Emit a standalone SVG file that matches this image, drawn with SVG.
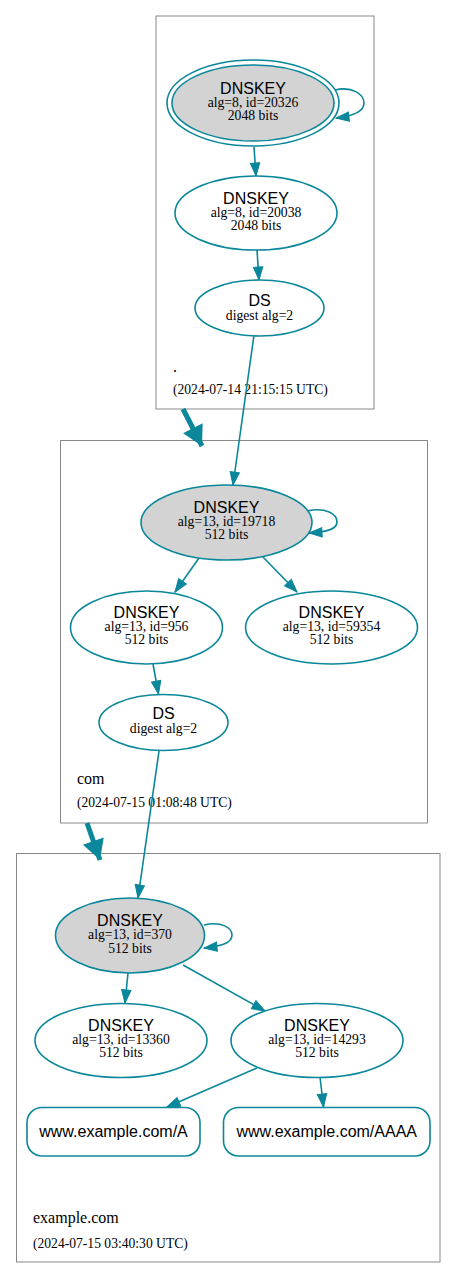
<svg xmlns="http://www.w3.org/2000/svg" width="456" height="1278" viewBox="0 0 456 1278">
<defs>
<style>
.cl{fill:#fff;stroke:#888;stroke-width:1}
.nd{fill:#fff;stroke:#0a879a;stroke-width:1.6}
.ksk{fill:#d3d3d3;stroke:#0a879a;stroke-width:1.6}
.e{fill:none;stroke:#0a879a;stroke-width:1.6;marker-end:url(#ah)}
.th{fill:none;stroke:#0a879a;stroke-width:5;marker-end:url(#ahT)}
.t1{font-family:"Liberation Sans",Arial,sans-serif;font-size:16px;fill:#000;text-anchor:middle}
.t2{font-family:"Liberation Serif","Times New Roman",serif;font-size:13.7px;fill:#000;text-anchor:middle}
.cn{font-family:"Liberation Serif","Times New Roman",serif;font-size:16px;fill:#000}
.ts{font-family:"Liberation Serif","Times New Roman",serif;font-size:13.6px;fill:#000}
</style>
<marker id="ah" markerUnits="userSpaceOnUse" markerWidth="14" markerHeight="11" refX="13" refY="4.7" orient="auto" overflow="visible">
<path d="M0,0 L13,4.7 L0,9.4 z" fill="#0a879a" stroke="#0a879a" stroke-width="1"/>
</marker>
<marker id="ahT" markerUnits="userSpaceOnUse" markerWidth="24" markerHeight="24" refX="20" refY="11" orient="auto" overflow="visible">
<path d="M0,0 L20,11 L0,22 z" fill="#0a879a"/>
</marker>
</defs>
<rect width="456" height="1278" fill="#fff"/>

<g id="cluster-root">
<rect class="cl" x="156" y="16" width="218" height="393"/>
<text class="cn" x="173" y="372">.</text>
<text class="ts" x="173" y="394">(2024-07-14 21:15:15 UTC)</text>
</g>
<g id="cluster-com">
<rect class="cl" x="60.5" y="440.5" width="367" height="382.5"/>
<text class="cn" x="77" y="784">com</text>
<text class="ts" x="77" y="807">(2024-07-15 01:08:48 UTC)</text>
</g>
<g id="cluster-example">
<rect class="cl" x="16.5" y="853.5" width="423.5" height="408.5"/>
<text class="cn" x="33" y="1223">example.com</text>
<text class="ts" x="33" y="1248">(2024-07-15 03:40:30 UTC)</text>
</g>

<g id="connectors">
<path class="th" d="M183,409 L202,446"/>
<path class="th" d="M87,823 L100,860"/>
<path class="e" d="M335,90 C352,86 364,94 364,103 C364,111 354,116 336,118"/>
<path class="e" d="M254,147 L256,176"/>
<path class="e" d="M257,250 L259,280"/>
<path class="e" d="M254,335 L233,485"/>
<path class="e" d="M307,511 C326,507 337,514 337,522 C337,529 328,532 309,533"/>
<path class="e" d="M199,558 L175,592"/>
<path class="e" d="M262,556 L297,592"/>
<path class="e" d="M153,664 L158.5,694"/>
<path class="e" d="M159,751 L138,898"/>
<path class="e" d="M204,925 C222,921 232,928 232,935 C232,943 222,946 204,948"/>
<path class="e" d="M128,973 L125,1003"/>
<path class="e" d="M183,965 L265,1011"/>
<path class="e" d="M257,1068 L167,1107"/>
<path class="e" d="M320,1077 L323.5,1107"/>
</g>

<g id="dnskey-20326">
<ellipse class="nd" cx="253" cy="103" rx="86" ry="43"/>
<ellipse class="ksk" cx="253" cy="103" rx="81" ry="38"/>
<text class="t1" x="253" y="93.5">DNSKEY</text>
<text class="t2" x="253" y="107">alg=8, id=20326</text>
<text class="t2" x="253" y="120">2048 bits</text>
</g>
<g id="dnskey-20038">
<ellipse class="nd" cx="256" cy="213" rx="81" ry="37"/>
<text class="t1" x="256" y="204">DNSKEY</text>
<text class="t2" x="256" y="217">alg=8, id=20038</text>
<text class="t2" x="256" y="230">2048 bits</text>
</g>
<g id="ds-com">
<ellipse class="nd" cx="259.5" cy="308" rx="64.5" ry="28"/>
<text class="t1" x="259.5" y="306">DS</text>
<text class="t2" x="259.5" y="320">digest alg=2</text>
</g>

<g id="dnskey-19718">
<ellipse class="ksk" cx="226.5" cy="522.5" rx="85.5" ry="37.5"/>
<text class="t1" x="226.5" y="513">DNSKEY</text>
<text class="t2" x="226.5" y="526">alg=13, id=19718</text>
<text class="t2" x="226.5" y="539">512 bits</text>
</g>
<g id="dnskey-956">
<ellipse class="nd" cx="146.5" cy="627.5" rx="76" ry="36.5"/>
<text class="t1" x="146.5" y="618">DNSKEY</text>
<text class="t2" x="146.5" y="631">alg=13, id=956</text>
<text class="t2" x="146.5" y="644">512 bits</text>
</g>
<g id="dnskey-59354">
<ellipse class="nd" cx="331.5" cy="627.5" rx="86" ry="36.5"/>
<text class="t1" x="331.5" y="618">DNSKEY</text>
<text class="t2" x="331.5" y="631">alg=13, id=59354</text>
<text class="t2" x="331.5" y="644">512 bits</text>
</g>
<g id="ds-example">
<ellipse class="nd" cx="163.5" cy="722.5" rx="64.5" ry="28"/>
<text class="t1" x="163.5" y="719">DS</text>
<text class="t2" x="163.5" y="733">digest alg=2</text>
</g>

<g id="dnskey-370">
<ellipse class="ksk" cx="130" cy="935.5" rx="74.5" ry="37.5"/>
<text class="t1" x="130" y="926">DNSKEY</text>
<text class="t2" x="130" y="939">alg=13, id=370</text>
<text class="t2" x="130" y="953">512 bits</text>
</g>
<g id="dnskey-13360">
<ellipse class="nd" cx="121" cy="1040.5" rx="86" ry="37"/>
<text class="t1" x="121" y="1031">DNSKEY</text>
<text class="t2" x="121" y="1044">alg=13, id=13360</text>
<text class="t2" x="121" y="1057">512 bits</text>
</g>
<g id="dnskey-14293">
<ellipse class="nd" cx="317" cy="1040.5" rx="86" ry="37"/>
<text class="t1" x="317" y="1031">DNSKEY</text>
<text class="t2" x="317" y="1044">alg=13, id=14293</text>
<text class="t2" x="317" y="1057">512 bits</text>
</g>
<g id="rrset-a">
<rect class="nd" x="27" y="1107.5" width="173" height="48.5" rx="15"/>
<text class="t1" x="113.5" y="1137">www.example.com/A</text>
</g>
<g id="rrset-aaaa">
<rect class="nd" x="223.5" y="1107.5" width="206.5" height="48.5" rx="15"/>
<text class="t1" x="326.75" y="1137">www.example.com/AAAA</text>
</g>
</svg>
